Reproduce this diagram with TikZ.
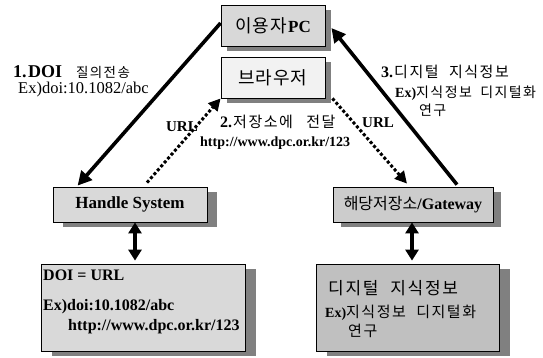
\documentclass[tikz,border=0pt]{standalone}
\usepackage{fontspec}
\setmainfont{Liberation Serif}
\newfontfamily\kr{Noto Sans CJK KR}
\newfontfamily\krm{Noto Sans CJK KR}[LetterSpace=5]
\newfontfamily\krs{Noto Sans CJK KR}[LetterSpace=10]
\usetikzlibrary{arrows.meta,calc,shadows}
\newcommand\szf[1]{\fontsize{#1}{#1}\selectfont}
\newcommand\ksp[1]{\hspace{#1em}}
\definecolor{pcfill}{HTML}{D8D8D8}
\definecolor{brfill}{HTML}{F2F2F2}
\definecolor{hsfill}{HTML}{D9D9D9}
\definecolor{gwfill}{HTML}{CCCCCC}
\definecolor{doifill}{HTML}{D9D9D9}
\definecolor{digfill}{HTML}{C0C0C0}
\definecolor{shade}{HTML}{808080}
\begin{document}
\begin{tikzpicture}[x=1pt,y=-1pt,
  box/.style={draw=black, line width=0.8pt, rectangle, inner sep=0pt, align=center},
  shd/.style={drop shadow={shadow xshift=#1, shadow yshift=-4.5pt, fill=shade, opacity=1}},
  txt/.style={inner sep=0pt, anchor=west},
  bigarrow/.style={line width=3.6pt, -{Triangle[length=14pt,width=14pt]}},
  dotarrow/.style={line width=3pt, dash pattern=on 3pt off 2.2pt, -{Triangle[length=12pt,width=12pt]}},
  dblarrow/.style={line width=3.2pt, {Triangle[length=11pt,width=13pt]}-{Triangle[length=11pt,width=13pt]}}
]
\fill[white] (0,0) rectangle (543,357);
\useasboundingbox (0,0) rectangle (543,357);

% boxes
\node[box, fill=pcfill, minimum width=104pt, minimum height=41pt, shd=6pt] (pc) at (273,25.5)
  {{\krm\szf{18}이용자}\,{\bfseries\szf{17}PC}};
\node[box, fill=brfill, minimum width=104pt, minimum height=41pt, shd=6pt] (br) at (273,77.5)
  {\krm\szf{18}브라우저};
\node[box, fill=hsfill, minimum width=154pt, minimum height=35pt, shd=10pt] (hs) at (130,204.5)
  {\bfseries\szf{17}Handle System};
\node[box, fill=gwfill, minimum width=160pt, minimum height=35pt, shd=8pt] (gw) at (413,204.5)
  {{\kr\szf{16}해당저장소}{\bfseries\szf{16}/Gateway}};
\node[box, fill=doifill, minimum width=204pt, minimum height=87pt, shd=11pt] (doi) at (143,307.5) {};
\node[box, fill=digfill, minimum width=183pt, minimum height=87pt, shd=11pt] (dig) at (407.5,307.5) {};

% texts inside the lower boxes
\node[txt] (doi1) at (43,275) {\bfseries\szf{16}DOI = URL};
\node[txt] (doi2) at (43,307) {\bfseries\szf{16}Ex)doi:10.1082/abc};
\node[txt] (doi3) at (68,327) {\bfseries\szf{16}http://www.dpc.or.kr/123};
\node[txt] (dig1) at (328,288) {\krs\szf{17}디지털\ksp{0.7}지식정보};
\node[txt] (dig2) at (325,313) {{\bfseries\szf{14}Ex)}{\krs\szf{15}지식정보\ksp{0.7}디지털화}};
\node[txt] (dig3) at (348,331) {\krs\szf{15}연구};

% step labels
\node[txt] (l1a) at (13,72) {{\bfseries\szf{18}1.\hspace{1.5pt}DOI}\hspace{14pt}{\krs\szf{13.5}질의전송}};
\node[txt] (l1b) at (18,90) {\szf{16.5}Ex)doi:10.1082/abc};
\node[txt, anchor=east] (url1) at (198,127) {\bfseries\szf{15}URL};
\node[txt] (l2a) at (220,122) {{\bfseries\szf{16}2.}\hspace{1pt}{\krs\szf{15}저장소에\ksp{0.9}전달}};
\node[txt] (l2b) at (200,143) {\bfseries\szf{14}http://www.dpc.or.kr/123};
\node[txt] (url2) at (362,123) {\bfseries\szf{15}URL};
\node[txt] (l3a) at (381,72) {{\bfseries\szf{16}3.}\hspace{1pt}{\krs\szf{15}디지털\ksp{0.7}지식정보}};
\node[txt] (l3b) at (395,93) {{\bfseries\szf{14}Ex)}{\krs\szf{14}지식정보\ksp{0.6}디지털화}};
\node[txt] (l3c) at (419,110) {\krs\szf{14}연구};

% connectors
\draw[bigarrow] ($(pc.west)+(0,-2.5)$) -- ($(hs.north west)+(25,-1)$);
\draw[dotarrow] ($(hs.north)+(17,-4)$) -- (br.south west);
\draw[dotarrow] ($(br.south east)+(7,0)$) -- ($(gw.north)+(-6,-3)$);
\draw[bigarrow] ($(gw.north)+(44,-2)$) -- ($(pc.east)+(6,2.5)$);
\draw[dblarrow] ($(hs.south)+(5,0)$) -- ($(doi.north)+(-8,-3)$);
\draw[dblarrow] ($(gw.south)+(-1,0)$) -- ($(dig.north)+(4.5,-3)$);
\end{tikzpicture}
\end{document}
